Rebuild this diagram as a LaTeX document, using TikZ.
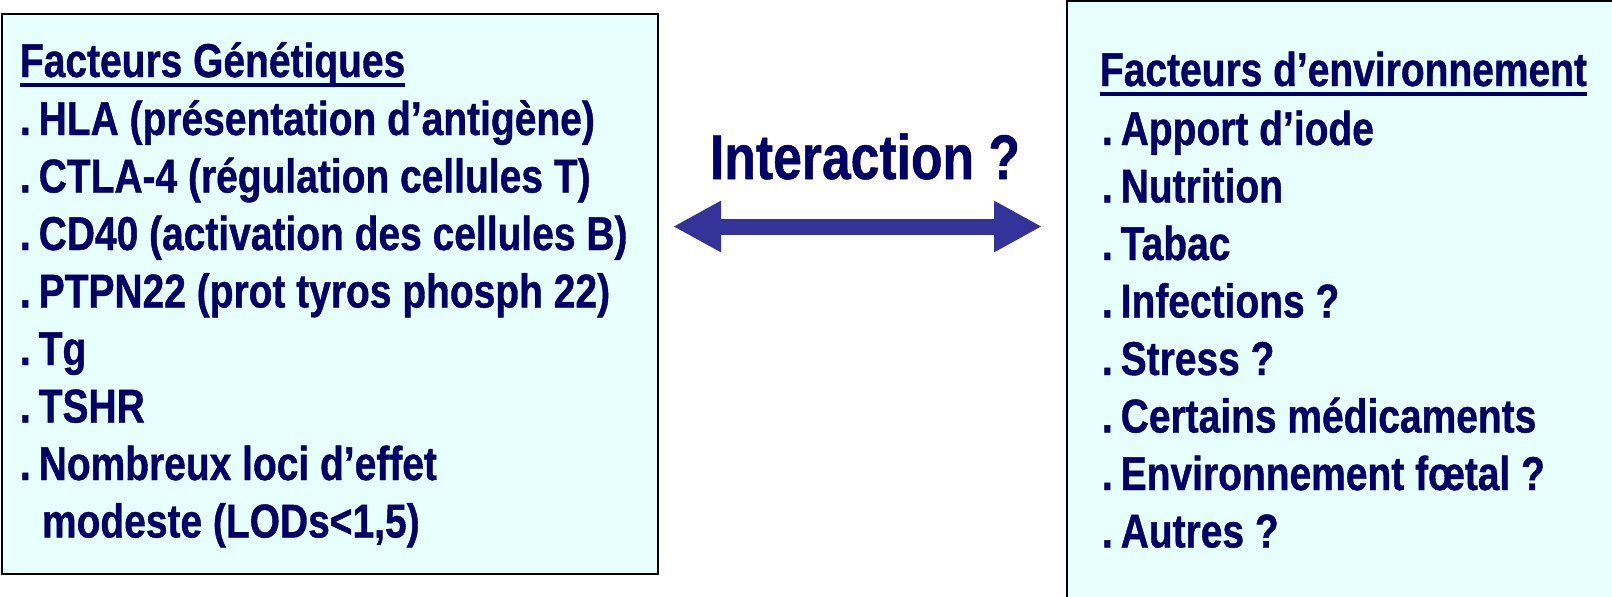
\documentclass[tikz,border=0pt]{standalone}
\usepackage{fontspec}
\usetikzlibrary{arrows.meta}
\newfontfamily\narrowsans[FakeStretch=0.82,BoldFeatures={FakeBold=0.8}]{Liberation Sans}
\definecolor{txtblue}{HTML}{000066}
\definecolor{boxfill}{HTML}{E8FFFF}
\definecolor{arrowblue}{HTML}{333399}
\begin{document}
\begin{tikzpicture}[x=1pt,y=-1pt,
  txt/.style={anchor=base west, inner sep=0pt, outer sep=0pt, text=txtblue,
    font=\narrowsans\bfseries\fontsize{47.5}{57.5}\selectfont},
  bigtxt/.style={anchor=base, inner sep=0pt, text=txtblue,
    font=\narrowsans\bfseries\fontsize{63}{70}\selectfont},
  factorbox/.style={draw=black, line width=2pt, fill=boxfill, anchor=north west,
    inner sep=0pt, outer sep=0pt},
  uline/.style={draw=txtblue, line width=3.5pt},
  biarrow/.style={arrowblue, line width=16pt,
    {Triangle[length=48pt,width=48pt]}-{Triangle[length=48pt,width=48pt]}}]
\useasboundingbox (0,0) rectangle (1612,597);
\clip (0,0) rectangle (1612,597);
\fill[white] (0,0) rectangle (1612,597);
% boxes
\node[factorbox, minimum width=656pt, minimum height=560pt] (gbox) at (2,14) {};
\node[factorbox, minimum width=560pt, minimum height=620pt] (ebox) at (1067,1) {};
% left texts
\node[txt] (gt) at (20,77) {Facteurs Génétiques};
\draw[uline] ([yshift=-8pt]gt.base west) -- ([yshift=-8pt]gt.base east);
\node[txt] (g1) at (20,135) {.\,HLA (présentation d’antigène)};
\node[txt] (g2) at (20,192.5) {.\,CTLA-4 (régulation cellules T)};
\node[txt] (g3) at (20,250) {.\,CD40 (activation des cellules B)};
\node[txt] (g4) at (20,307.5) {.\,PTPN22 (prot tyros phosph 22)};
\node[txt] (g5) at (20,365) {.\,Tg};
\node[txt] (g6) at (20,422.5) {.\,TSHR};
\node[txt] (g7) at (20,480) {.\,Nombreux loci d’effet};
\node[txt] (g8) at (42,537.5) {modeste (LODs<1,5)};
% right texts
\node[txt] (et) at (1100,86) {Facteurs d’environnement};
\draw[uline] ([yshift=-8pt]et.base west) -- ([yshift=-8pt]et.base east);
\node[txt] (e1) at (1102,145) {.\,Apport d’iode};
\node[txt] (e2) at (1102,202.5) {.\,Nutrition};
\node[txt] (e3) at (1102,260) {.\,Tabac};
\node[txt] (e4) at (1102,317.5) {.\,Infections ?};
\node[txt] (e5) at (1102,375) {.\,Stress ?};
\node[txt] (e6) at (1102,432.5) {.\,Certains médicaments};
\node[txt] (e7) at (1102,490) {.\,Environnement fœtal ?};
\node[txt] (e8) at (1102,547.5) {.\,Autres ?};
% interaction
\node[bigtxt] (inter) at (865,179) {Interaction ?};
\coordinate (aL) at (673,226.5);
\coordinate (aR) at (1042,226.5);
\draw[biarrow] (aL) -- (aR);
\end{tikzpicture}
\end{document}
